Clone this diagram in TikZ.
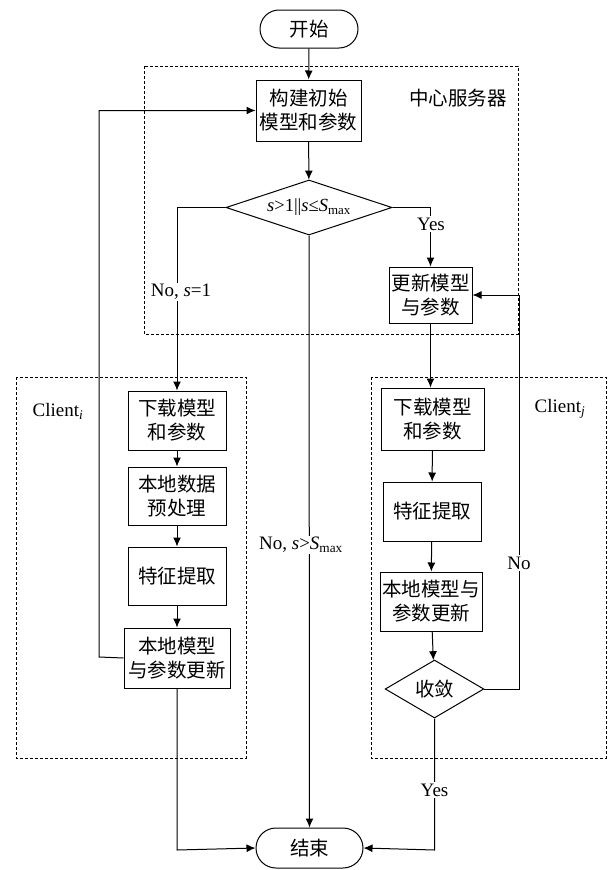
\documentclass[tikz,border=0pt]{standalone}
\usepackage{fontspec}
\setmainfont{Liberation Serif}
\newfontfamily\cjk{Noto Sans CJK SC}
\usetikzlibrary{shapes.geometric,shapes.misc,arrows.meta}
\tikzset{
  base/.style={draw,line width=1pt,inner sep=0pt,align=center,font=\cjk\fontsize{19.5}{24}\selectfont},
  procbox/.style={base,rectangle},
  termbox/.style={base,rounded rectangle},
  decbox/.style={base,diamond,shape aspect=3.3},
  conn/.style={line width=1pt,-{Latex[length=9pt,width=8pt]}},
  plain/.style={line width=1pt},
  region/.style={draw,line width=0.9pt,dash pattern=on 3pt off 2pt},
  lbl/.style={font=\fontsize{19}{22}\selectfont,inner sep=1pt},
  tag/.style={fill=white,font=\fontsize{19}{22}\selectfont,inner sep=1.5pt}
}
\begin{document}
\begin{tikzpicture}[x=1pt,y=-1pt]
\useasboundingbox[fill=white] (0,0) rectangle (608,870);
% regions
\draw[region] (144,66) rectangle (518,334);
\draw[region] (16,377) rectangle (246,758);
\draw[region] (371,377) rectangle (606,758);
\node[lbl,font=\cjk\fontsize{19.5}{24}\selectfont] (srv) at (458,98) {中心服务器};
\node[lbl] (ci) at (58,411) {Client\textsubscript{\textit{i}}};
\node[lbl] (cj) at (560,409) {Client\textsubscript{\textit{j}}};
% nodes
\node[termbox,minimum width=98pt,minimum height=38pt] (start) at (309,29) {开始};
\node[procbox,minimum width=105pt,minimum height=61pt] (build) at (308.5,110.5) {构建初始\\模型和参数};
\node[decbox,minimum width=166pt,minimum height=55pt,font=\fontsize{18.5}{21}\selectfont] (dec) at (309,207.5) {\textit{s}>1||\textit{s}≤\textit{S}\textsubscript{max}};
\node[procbox,minimum width=83pt,minimum height=56pt] (upd) at (430.5,295) {更新模型\\与参数};
\node[procbox,minimum width=98pt,minimum height=59pt] (dli) at (177,420.5) {下载模型\\和参数};
\node[procbox,minimum width=98pt,minimum height=58pt] (prei) at (177,496) {本地数据\\预处理};
\node[procbox,minimum width=98pt,minimum height=58pt] (fei) at (177,576) {特征提取};
\node[procbox,minimum width=106pt,minimum height=60pt] (upi) at (177,658) {本地模型\\与参数更新};
\node[procbox,minimum width=103pt,minimum height=62pt] (dlj) at (432.5,419) {下载模型\\和参数};
\node[procbox,minimum width=98pt,minimum height=59pt] (fej) at (432,511.5) {特征提取};
\node[procbox,minimum width=102pt,minimum height=59pt] (upj) at (431,601.5) {本地模型与\\参数更新};
\node[decbox,minimum width=97pt,minimum height=58pt] (conv) at (434.5,689) {收敛};
\node[termbox,minimum width=107pt,minimum height=40pt] (end) at (309.5,848) {结束};
% coordinates
\coordinate (loopL) at (99,657);
\coordinate (noR) at (519,689);
\coordinate (botL) at (177,850);
\coordinate (botR) at (434.5,850);
% connectors
\draw[conn] (start) -- (build);
\draw[conn] (build) -- (dec);
\draw[conn] (upi.west) -- (loopL) |- (build.west);
\draw[conn] (dec.west) -| (dli.north);
\draw[conn] (dec.east) -| (upd.north);
\draw[conn] (dec.south) -- (end.north);
\draw[conn] (upd.south) -- (upd.south |- dlj.north);
\draw[conn] (dli) -- (prei);
\draw[conn] (prei) -- (fei);
\draw[conn] (fei) -- (upi);
\draw[conn] (dlj) -- (fej);
\draw[conn] (fej) -- (upj);
\draw[conn] (upj) -- (conv);
\draw[conn] (conv.east) -- (noR) |- (upd.east);
\draw[conn] (conv.south) -- (botR) -- (end.east);
\draw[conn] (upi.south) -- (botL) -- (end.west);
% labels on connectors
\node[tag] (l1) at (181,292) {No, \textit{s}=1};
\node[tag] (l2) at (431,224) {Yes};
\node[tag] (l3) at (301,545) {No, \textit{s}>\textit{S}\textsubscript{max}};
\node[tag] (l4) at (519,563) {No};
\node[tag] (l5) at (434.5,790) {Yes};
\end{tikzpicture}
\end{document}
